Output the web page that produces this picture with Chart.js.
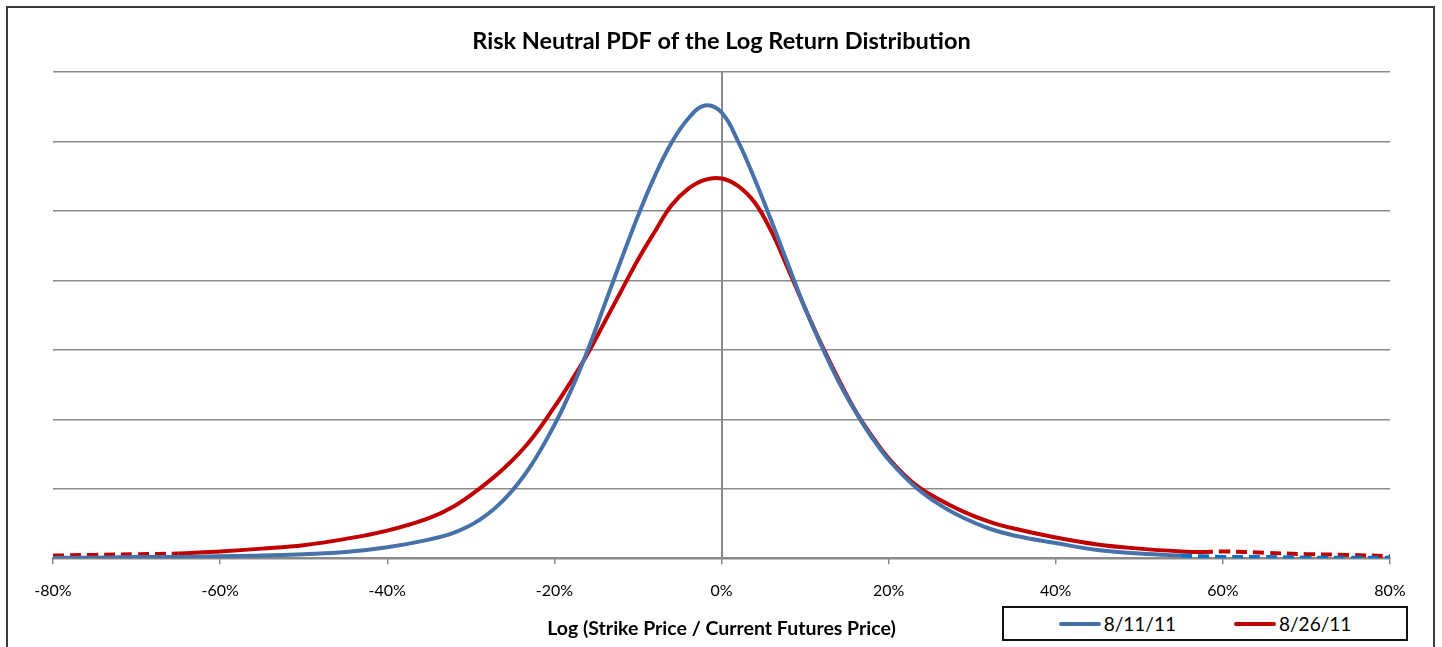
<!DOCTYPE html>
<html>
<head>
<meta charset="utf-8">
<title>Risk Neutral PDF of the Log Return Distribution</title>
<script src="https://cdn.jsdelivr.net/npm/chart.js@4/dist/chart.umd.min.js"></script>
<style>
  html, body { margin: 0; padding: 0; background: #fff; }
  #wrap { position: relative; width: 1442px; height: 647px; overflow: hidden; }
  #frame {
    position: absolute; left: 6px; top: 6px; width: 1429px; height: 680px;
    border: 2px solid #3a3a3a; box-sizing: border-box;
  }
  #chartBox { position: absolute; left: 0; top: 0; width: 1442px; height: 647px; }
  #legend {
    position: absolute; left: 1002px; top: 606px; width: 406px; height: 35px;
    border: 2px solid #111; box-sizing: border-box; background: #fff;
    display: flex; align-items: center; justify-content: center; gap: 58px;
    font-family: Lato, "Liberation Sans", sans-serif; font-size: 19px; color: #000;
  }
  #legend .item { display: flex; align-items: center; }
  #legend .swatch { width: 42px; height: 4px; border-radius: 2px; margin-right: 3px; }
</style>
</head>
<body>
<div id="wrap">
  <div id="frame"></div>
  <div id="chartBox"><canvas id="pdfChart"></canvas></div>
  <div id="legend"></div>
</div>
<script>
// log(strike / futures), in percent
const logReturn = [
  -80, -75, -70, -65, -60, -55, -50, -45, -40, -35, -32, -29, -26, -23, -20,
  -18, -16, -14, -12, -10, -8, -6, -4, -2, 0, 2, 4, 6, 8, 10, 12, 14, 16, 18,
  20, 23, 26, 29, 32, 35, 40, 45, 50, 55, 57.5, 60, 65, 70, 75, 80
];

const pdfAug11 = [
  0.01, 0.01, 0.02, 0.02, 0.03, 0.04, 0.06, 0.09, 0.16, 0.27, 0.37, 0.55, 0.85, 1.3, 1.92,
  2.42, 3.0, 3.65, 4.3, 4.93, 5.5, 5.98, 6.33, 6.52, 6.42, 6.0, 5.45, 4.85, 4.22, 3.6, 3.05, 2.55, 2.12, 1.74,
  1.42, 1.05, 0.78, 0.58, 0.43, 0.33, 0.22, 0.12, 0.07, 0.04, 0.03, 0.02, 0.02, 0.01, 0.01, 0.01
];

const pdfAug26 = [
  0.04, 0.05, 0.06, 0.07, 0.10, 0.14, 0.19, 0.28, 0.40, 0.58, 0.75, 1.0, 1.3, 1.68, 2.18,
  2.55, 2.95, 3.4, 3.85, 4.3, 4.7, 5.08, 5.32, 5.45, 5.47, 5.36, 5.12, 4.7, 4.16, 3.6, 3.07, 2.58, 2.13, 1.76,
  1.44, 1.08, 0.85, 0.67, 0.53, 0.43, 0.30, 0.20, 0.14, 0.10, 0.09, 0.10, 0.08, 0.06, 0.05, 0.03
];

const seriesLabels = ["8/11/11", "8/26/11"];
const xTicks = [-80, -60, -40, -20, 0, 20, 40, 60, 80];

// extrapolated tails (drawn dashed): [below, above]
const tailsAug11 = [-999, 55];
const tailsAug26 = [-65, 57.5];

const BLUE = "#4672a9";
const BLUE_TAIL = "#0a72c4";
const RED = "#c00000";
const GRID = "#8a8a8a";
const FONT = "Lato, 'Liberation Sans', sans-serif";

function points(ys) {
  return logReturn.map((x, i) => ({ x: x, y: ys[i] }));
}

function inTail(ctx, tails) {
  const a = ctx.p0.parsed.x, b = ctx.p1.parsed.x;
  return b <= tails[0] || a >= tails[1];
}

function lineSet(label, ys, color, tailColor, tails) {
  return {
    label: label,
    data: points(ys),
    borderColor: color,
    borderWidth: 4,
    pointRadius: 0,
    fill: false,
    tension: 0.4,
    borderCapStyle: "butt",
    segment: {
      borderDash: ctx => inTail(ctx, tails) ? [11, 6] : undefined,
      borderColor: ctx => inTail(ctx, tails) ? tailColor : undefined,
    },
  };
}

const ctx = document.getElementById("pdfChart").getContext("2d");
const chart = new Chart(ctx, {
  type: "line",
  data: {
    datasets: [
      lineSet(seriesLabels[0], pdfAug11, BLUE, BLUE_TAIL, tailsAug11),
      lineSet(seriesLabels[1], pdfAug26, RED, RED, tailsAug26),
    ],
  },
  options: {
    responsive: true,
    maintainAspectRatio: false,
    animation: false,
    layout: { padding: { left: 53, right: 52, top: 0, bottom: 8 } },
    plugins: {
      legend: { display: false },
      tooltip: { enabled: false },
      title: {
        display: true,
        text: "Risk Neutral PDF of the Log Return Distribution",
        color: "#000",
        font: { family: FONT, size: 23.5, weight: "bold" },
        padding: { top: 27, bottom: 17 },
      },
    },
    scales: {
      x: {
        type: "linear",
        min: -80,
        max: 80,
        afterBuildTicks: axis => { axis.ticks = xTicks.map(v => ({ value: v })); },
        ticks: {
          color: "#000",
          font: { family: FONT, size: 16 },
          padding: 17,
          maxRotation: 0,
          callback: v => v + "%",
        },
        grid: {
          drawOnChartArea: false,
          drawTicks: true,
          tickLength: 6,
          color: GRID,
          lineWidth: 1.5,
        },
        border: { display: true, color: GRID, width: 2 },
        title: {
          display: true,
          text: "Log (Strike Price / Current Futures Price)",
          color: "#000",
          font: { family: FONT, size: 19.5, weight: "bold", lineHeight: 1.1 },
          padding: { top: 0, bottom: 0 },
        },
      },
      y: {
        position: { x: 0 },
        min: 0,
        max: 7,
        ticks: { display: false, stepSize: 1 },
        grid: { color: GRID, lineWidth: 1.5, drawTicks: false },
        border: { display: true, color: GRID, width: 2 },
      },
    },
  },
});

// boxed legend, bottom right
const legendEl = document.getElementById("legend");
chart.data.datasets.forEach(ds => {
  const item = document.createElement("div");
  item.className = "item";
  const sw = document.createElement("span");
  sw.className = "swatch";
  sw.style.background = ds.borderColor;
  const txt = document.createElement("span");
  txt.textContent = ds.label;
  item.appendChild(sw);
  item.appendChild(txt);
  legendEl.appendChild(item);
});
</script>
</body>
</html>
